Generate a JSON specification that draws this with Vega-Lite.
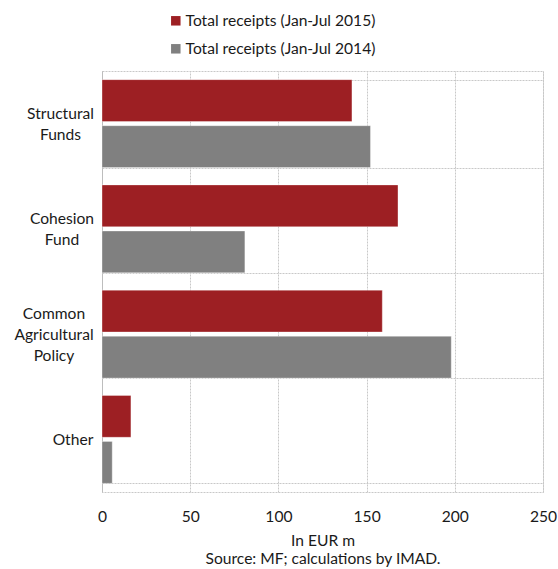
{
  "$schema": "https://vega.github.io/schema/vega-lite/v6.json",
  "autosize": {"type": "none"},
  "width": 441,
  "height": 421,
  "padding": {"left": 102, "top": 71, "right": 15, "bottom": 77},
  "background": "white",
  "config": {
    "font": "Lato",
    "view": {"stroke": "#c8c8c8", "strokeDash": [2, 1], "strokeWidth": 1}
  },
  "data": {
    "values": [
      {"category": "Structural Funds", "series": "Total receipts (Jan-Jul 2015)", "value": 141.7},
      {"category": "Structural Funds", "series": "Total receipts (Jan-Jul 2014)", "value": 152.2},
      {"category": "Cohesion Fund", "series": "Total receipts (Jan-Jul 2015)", "value": 167.8},
      {"category": "Cohesion Fund", "series": "Total receipts (Jan-Jul 2014)", "value": 81},
      {"category": "Common Agricultural Policy", "series": "Total receipts (Jan-Jul 2015)", "value": 158.9},
      {"category": "Common Agricultural Policy", "series": "Total receipts (Jan-Jul 2014)", "value": 198},
      {"category": "Other", "series": "Total receipts (Jan-Jul 2015)", "value": 16.4},
      {"category": "Other", "series": "Total receipts (Jan-Jul 2014)", "value": 5.8}
    ]
  },
  "mark": {"type": "bar", "stroke": "white", "strokeWidth": 0.6, "strokeOpacity": 0.6},
  "encoding": {
    "y": {
      "field": "category",
      "type": "nominal",
      "sort": ["Structural Funds", "Cohesion Fund", "Common Agricultural Policy", "Other"],
      "scale": {"paddingInner": 0.164, "paddingOuter": 0.082},
      "axis": {
        "title": null,
        "labelExpr": "split(datum.label, ' ')",
        "labelFontSize": 15.6,
        "labelLineHeight": 21,
        "labelColor": "#1a1a1a",
        "labelAlign": "center",
        "labelPadding": {
          "condition": [
            {"test": "datum.value === 'Structural Funds'", "value": 42},
            {"test": "datum.value === 'Cohesion Fund'", "value": 40.5},
            {"test": "datum.value === 'Common Agricultural Policy'", "value": 48.5}
          ],
          "value": 29.5
        },
        "labelOffset": {
          "condition": [
            {"test": "datum.value === 'Common Agricultural Policy'", "value": -21},
            {"test": "datum.value === 'Other'", "value": 0}
          ],
          "value": -10.5
        },
        "ticks": false,
        "domainColor": "#bdbdbd",
        "grid": true,
        "tickBand": "extent",
        "gridColor": "#c8c8c8",
        "gridDash": [2, 1]
      }
    },
    "yOffset": {
      "field": "series",
      "type": "nominal",
      "sort": ["Total receipts (Jan-Jul 2015)", "Total receipts (Jan-Jul 2014)"],
      "scale": {"paddingInner": 0.09, "paddingOuter": 0}
    },
    "x": {
      "field": "value",
      "type": "quantitative",
      "scale": {"domain": [0, 250], "nice": false},
      "axis": {
        "values": [0, 50, 100, 150, 200, 250],
        "title": ["In EUR m", "Source: MF; calculations by IMAD."],
        "titleFontSize": 15.6,
        "titleFontWeight": "normal",
        "titleColor": "#1a1a1a",
        "titleLineHeight": 18,
        "titlePadding": 9,
        "labelFontSize": 15.6,
        "labelColor": "#1a1a1a",
        "labelPadding": 17,
        "labelFlush": false,
        "ticks": false,
        "domain": false,
        "grid": true,
        "gridColor": "#c8c8c8",
        "gridDash": [2, 1]
      }
    },
    "color": {
      "field": "series",
      "type": "nominal",
      "sort": ["Total receipts (Jan-Jul 2015)", "Total receipts (Jan-Jul 2014)"],
      "scale": {"range": ["#9d1f23", "#808080"]},
      "legend": {
        "title": null,
        "orient": "none",
        "legendX": 66,
        "legendY": -58,
        "direction": "vertical",
        "symbolType": "square",
        "symbolSize": 90,
        "symbolStrokeWidth": 0,
        "labelFontSize": 15.6,
        "labelColor": "#1a1a1a",
        "labelOffset": 2,
        "labelLimit": 0,
        "rowPadding": 11
      }
    }
  }
}
